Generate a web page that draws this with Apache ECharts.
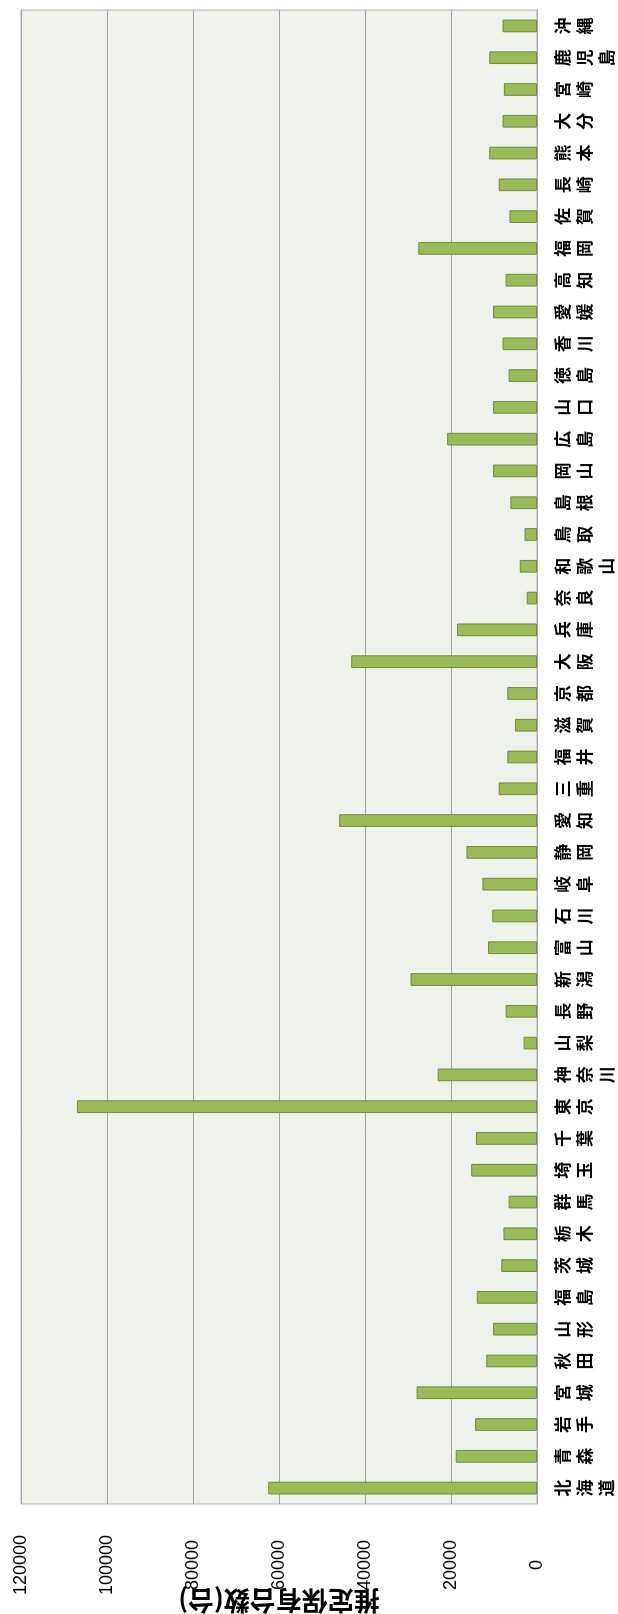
<!DOCTYPE html>
<html>
<head>
<meta charset="utf-8">
<script src="https://cdn.jsdelivr.net/npm/echarts@6/dist/echarts.min.js"></script>
<style>
  html, body { margin: 0; padding: 0; background: #ffffff; overflow: hidden; }
  #page { position: relative; width: 618px; height: 1614px; overflow: hidden; }
  /* the column chart is laid out landscape and turned a quarter turn counter-clockwise */
  #chart {
    position: absolute; left: 0; top: 0;
    width: 1614px; height: 618px;
    transform-origin: 0 0;
    transform: translateY(1614px) rotate(-90deg);
  }
</style>
</head>
<body>
<div id="page"><div id="chart"></div></div>
<script>
// prefectures, north to south
const prefectures = [
  '北海道','青森','岩手','宮城','秋田','山形','福島','茨城','栃木','群馬',
  '埼玉','千葉','東京','神奈川','山梨','長野','新潟','富山','石川','岐阜',
  '静岡','愛知','三重','福井','滋賀','京都','大阪','兵庫','奈良','和歌山',
  '鳥取','島根','岡山','広島','山口','徳島','香川','愛媛','高知','福岡',
  '佐賀','長崎','熊本','大分','宮崎','鹿児島','沖縄'
];

// estimated number of units held per prefecture
const units = [
  62500, 18900, 14400, 28000, 11800, 10200, 14000, 8300, 7800, 6600,
  15300, 14200, 107000, 23100, 3100, 7300, 29400, 11400, 10400, 12700,
  16400, 46000, 8900, 6900, 5100, 6900, 43200, 18600, 2400, 4000,
  2900, 6200, 10200, 20900, 10200, 6600, 8000, 10200, 7300, 27600,
  6400, 8900, 11100, 8000, 7700, 11100, 8000
];

const valueTicks = [0, 20000, 40000, 60000, 80000, 100000, 120000];
const valueAxisName = '推定保有台数(台)';

const chart = echarts.init(document.getElementById('chart'), null, { renderer: 'canvas' });

chart.setOption({
  animation: false,
  backgroundColor: '#ffffff',
  grid: {
    left: 110, right: 10, top: 21, bottom: 81,
    outerBoundsMode: 'none',
    containLabel: false,
    show: true,
    backgroundColor: '#EEF2EA',
    borderColor: '#B4B4B4',
    borderWidth: 1
  },
  xAxis: {
    type: 'category',
    data: prefectures,
    axisLine: { show: true, lineStyle: { color: '#A6A6A6', width: 1 } },
    axisTick: { show: false },
    axisLabel: {
      interval: 0,
      margin: 15,
      color: '#000000',
      fontFamily: '"Noto Sans CJK JP", sans-serif',
      fontWeight: 'bold',
      fontSize: 17,
      lineHeight: 22,
      verticalAlign: 'top',
      // one character per line, stacked
      formatter: (v) => v.split('').join('\n')
    }
  },
  yAxis: {
    type: 'value',
    min: valueTicks[0],
    max: valueTicks[valueTicks.length - 1],
    interval: valueTicks[1] - valueTicks[0],
    name: valueAxisName,
    nameLocation: 'middle',
    nameRotate: 90,
    nameGap: 84,
    nameMoveOverlap: false,
    nameTextStyle: {
      color: '#000000',
      fontFamily: '"Noto Sans CJK JP", sans-serif',
      fontWeight: 'bold',
      fontSize: 26
    },
    axisLine: { show: false },
    axisTick: { show: false },
    axisLabel: {
      margin: 61,
      align: 'center',
      color: '#000000',
      fontFamily: '"Liberation Sans", Arial, sans-serif',
      fontSize: 18,
      formatter: (v) => String(v)
    },
    splitLine: { show: true, lineStyle: { color: '#A0A0A0', width: 1 } }
  },
  series: [{
    type: 'bar',
    data: units,
    barWidth: '40%',
    itemStyle: {
      color: '#9BBB59',
      borderColor: '#71893F',
      borderWidth: 1
    }
  }]
});
</script>
</body>
</html>
